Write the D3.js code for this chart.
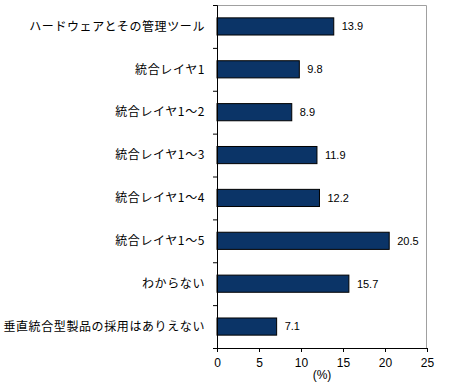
<!DOCTYPE html>
<html><head><meta charset="utf-8">
<script src="https://cdn.jsdelivr.net/npm/d3@7"></script>
<style>body{margin:0;background:#fff}svg{display:block}</style>
</head><body>
<script>
const categories = ["ハードウェアとその管理ツール","統合レイヤ1","統合レイヤ1～2","統合レイヤ1～3","統合レイヤ1～4","統合レイヤ1～5","わからない","垂直統合型製品の採用はありえない"];
const values = [13.9, 9.8, 8.9, 11.9, 12.2, 20.5, 15.7, 7.1];
const xTicks = [0, 5, 10, 15, 20, 25];
const xLabel = "(%)";

const W = 460, H = 391;
const m = {left: 217, right: 33, top: 5, bottom: 43};
const svg = d3.select("body").append("svg").attr("width", W).attr("height", H);
const x = d3.scaleLinear().domain([0, 25]).range([m.left, W - m.right]);
const y = d3.scaleBand().domain(categories).range([m.top, H - m.bottom]).paddingInner(0.6).paddingOuter(0.3);

// frame (top/right gray)
svg.append("path").attr("d", `M${m.left},${m.top + 0.5}H${W - m.right - 0.5}V${H - m.bottom}`)
  .attr("fill", "none").attr("stroke", "#a0a0a0").attr("stroke-width", 1);

// bars
svg.selectAll("rect.bar").data(values).join("rect")
  .attr("x", x(0)).attr("y", (d, i) => y(categories[i]))
  .attr("width", d => x(d) - x(0)).attr("height", y.bandwidth())
  .attr("fill", "#0b3467").attr("stroke", "#000").attr("stroke-width", 1);

// value labels
svg.selectAll("text.val").data(values).join("text")
  .attr("x", d => x(d) + 8).attr("y", (d, i) => y(categories[i]) + y.bandwidth() / 2)
  .attr("dy", "0.35em").attr("font-family", "Arial, 'Liberation Sans', sans-serif")
  .attr("font-size", 11).attr("fill", "#000").text(d => d.toFixed(1));

// x axis
const xa = svg.append("g").attr("transform", `translate(0,${H - m.bottom})`)
  .call(d3.axisBottom(x).tickValues(xTicks).tickSize(4).tickPadding(6).tickSizeOuter(0));
xa.select(".domain").attr("stroke", "#000");
xa.selectAll("text").attr("font-family", "Arial, 'Liberation Sans', sans-serif").attr("font-size", 12).attr("fill", "#000");

// y axis with ticks at band boundaries
const yb = d3.scaleLinear().domain([0, categories.length]).range([m.top, H - m.bottom]);
const ya = svg.append("g").attr("transform", `translate(${m.left},0)`)
  .call(d3.axisLeft(yb).tickValues(d3.range(0, categories.length + 1)).tickSize(4).tickFormat(""));
ya.select(".domain").attr("stroke", "#000");

// category labels
svg.selectAll("text.cat").data(categories).join("text")
  .attr("x", m.left - 12).attr("y", d => y(d) + y.bandwidth() / 2)
  .attr("dy", "0.35em").attr("text-anchor", "end")
  .attr("font-family", "'Noto Sans CJK JP', sans-serif").attr("font-size", 12)
  .attr("letter-spacing", 0.6).attr("fill", "#000").text(d => d);

svg.append("text").attr("x", (x(0) + x(25)) / 2).attr("y", H - 12)
  .attr("text-anchor", "middle").attr("font-family", "Arial, 'Liberation Sans', sans-serif")
  .attr("font-size", 12).text(xLabel);
</script>
</body></html>
